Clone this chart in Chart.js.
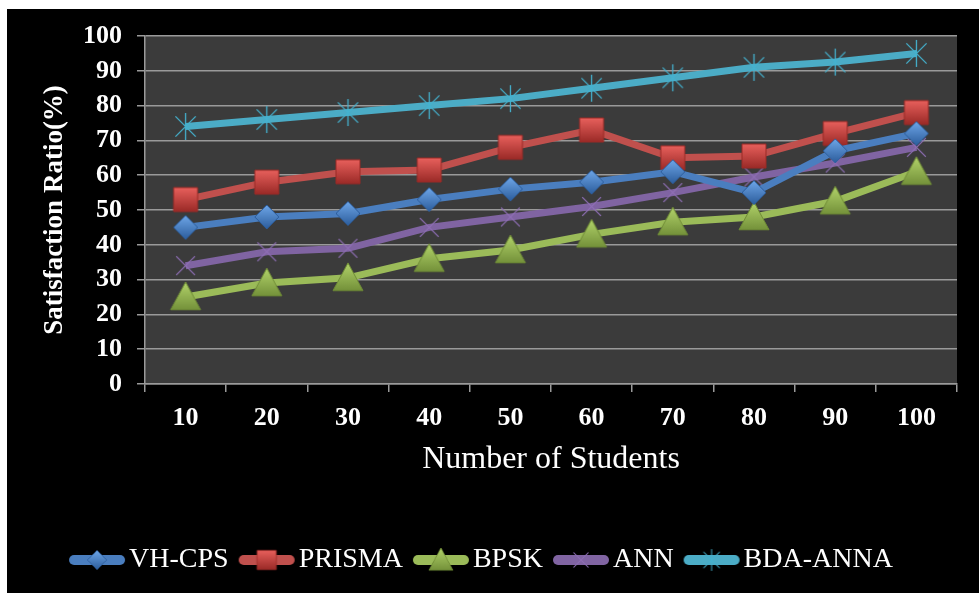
<!DOCTYPE html>
<html>
<head>
<meta charset="utf-8">
<script src="https://cdn.jsdelivr.net/npm/chart.js@4/dist/chart.umd.min.js"></script>
<style>
  html, body { margin: 0; padding: 0; background: #ffffff; }
  .frame {
    position: absolute;
    left: 7px;
    top: 9px;
    width: 972px;
    height: 584px;
    background: #000000;
  }
</style>
</head>
<body>
<div class="frame"><canvas id="chart" width="972" height="584"></canvas></div>
<script>
const categories = ['10', '20', '30', '40', '50', '60', '70', '80', '90', '100'];

const vhCps   = [45, 48, 49, 53, 56, 58, 61, 55, 67, 72];
const prisma  = [53, 58, 61, 61.5, 68, 73, 65, 65.5, 72, 78];
const bpsk    = [25, 29, 30.5, 36, 38.5, 43, 46.5, 48, 52.5, 61];
const ann     = [34, 38, 39, 45, 48, 51, 55, 59.5, 63.5, 68];
const bdaAnna = [74, 76, 78, 80, 82, 85, 88, 91, 92.5, 95];

const seriesNames = ['VH-CPS', 'PRISMA', 'BPSK', 'ANN', 'BDA-ANNA'];
const yTicks = [0, 10, 20, 30, 40, 50, 60, 70, 80, 90, 100];

const FONT = "'Liberation Serif', 'Times New Roman', serif";
const GRID = '#9a9a9a';

// marker glyphs, Excel-ish with a light top and darker bottom
function makeMarker(kind, light, dark, size) {
  const c = document.createElement('canvas');
  c.width = size + 4;
  c.height = size + 4;
  const g = c.getContext('2d');
  const m = c.width / 2;
  const h = size / 2;
  const grad = g.createLinearGradient(0, m - h, 0, m + h);
  grad.addColorStop(0, light);
  grad.addColorStop(1, dark);
  g.fillStyle = grad;
  g.strokeStyle = dark;
  g.lineWidth = 1;
  g.beginPath();
  if (kind === 'square') {
    g.rect(m - h, m - h, size, size);
  } else if (kind === 'diamond') {
    g.moveTo(m, m - h); g.lineTo(m + h, m); g.lineTo(m, m + h); g.lineTo(m - h, m);
    g.closePath();
  } else if (kind === 'triangle') {
    g.moveTo(m, m - h); g.lineTo(m + h, m + h * 0.85); g.lineTo(m - h, m + h * 0.85);
    g.closePath();
  }
  if (kind === 'x' || kind === 'star') {
    g.strokeStyle = light;
    g.lineWidth = 1.3;
    const d = h * 0.75;
    g.moveTo(m - d, m - d); g.lineTo(m + d, m + d);
    g.moveTo(m + d, m - d); g.lineTo(m - d, m + d);
    if (kind === 'star') { g.moveTo(m, m - h); g.lineTo(m, m + h); }
    g.stroke();
  } else {
    g.fill();
    g.stroke();
  }
  return c;
}

function makeLegendIcon(color, marker) {
  const c = document.createElement('canvas');
  c.width = 60;
  c.height = 28;
  const g = c.getContext('2d');
  g.strokeStyle = color;
  g.lineWidth = 10;
  g.lineCap = 'round';
  g.beginPath();
  g.moveTo(7, 14);
  g.lineTo(53, 14);
  g.stroke();
  const s = 0.8;
  const w = marker.width * s, hh = marker.height * s;
  g.drawImage(marker, 30 - w / 2, 14 - hh / 2, w, hh);
  return c;
}

const styles = [
  { data: vhCps,   line: '#4a7ebf', light: '#6ea6e8', dark: '#2c5d9c', kind: 'diamond',  size: 24 },
  { data: prisma,  line: '#c0504d', light: '#e8605c', dark: '#9a2a27', kind: 'square',   size: 24 },
  { data: bpsk,    line: '#9bbb59', light: '#b2d36a', dark: '#6f8c36', kind: 'triangle', size: 30 },
  { data: ann,     line: '#8064a2', light: '#8f6fb6', dark: '#5e4680', kind: 'x',        size: 25 },
  { data: bdaAnna, line: '#4bacc6', light: '#45b2cf', dark: '#2e8aa3', kind: 'star',     size: 27 }
];

const markers = styles.map(s => makeMarker(s.kind, s.light, s.dark, s.size));
const legendIcons = styles.map((s, i) => makeLegendIcon(s.line, markers[i]));

const datasets = styles.map((s, i) => ({
  label: seriesNames[i],
  data: s.data,
  borderColor: s.line,
  backgroundColor: s.line,
  borderWidth: 7,
  pointStyle: markers[i],
  pointRadius: s.size / 2,
  tension: 0,
  fill: false
}));

const plotBackground = {
  id: 'plotBackground',
  beforeDraw(chart) {
    const { ctx, chartArea: a } = chart;
    ctx.save();
    ctx.fillStyle = '#3b3b3b';
    ctx.fillRect(a.left, a.top, a.right - a.left, a.bottom - a.top);
    ctx.restore();
  }
};

new Chart(document.getElementById('chart'), {
  type: 'line',
  data: { labels: categories, datasets: datasets },
  plugins: [plotBackground],
  options: {
    responsive: false,
    animation: false,
    layout: { padding: { left: 0, right: 14, top: 27, bottom: 9 } },
    plugins: {
      tooltip: { enabled: false },
      legend: {
        position: 'bottom',
        align: 'center',
        labels: {
          usePointStyle: true,
          pointStyleWidth: 36,
          padding: 20,
          color: '#ffffff',
          font: { family: FONT, size: 28 },
          generateLabels(chart) {
            const items = Chart.defaults.plugins.legend.labels.generateLabels(chart);
            items.forEach((it, i) => { it.pointStyle = legendIcons[i]; });
            return items;
          }
        }
      }
    },
    scales: {
      x: {
        offset: true,
        afterFit(scale) { scale.height = 142; },
        grid: {
          offset: true,
          drawOnChartArea: false,
          drawTicks: true,
          tickLength: 8,
          color: GRID,
          lineWidth: 1.5
        },
        border: { color: GRID, width: 1.5 },
        ticks: {
          color: '#ffffff',
          padding: 11,
          font: { family: FONT, size: 26, weight: 'bold' }
        },
        title: {
          display: true,
          text: 'Number of Students',
          color: '#ffffff',
          font: { family: FONT, size: 32 },
          padding: { top: 0, bottom: 47 }
        }
      },
      y: {
        min: 0,
        max: 100,
        afterFit(scale) { scale.width = 138; },
        afterBuildTicks(scale) { scale.ticks = yTicks.map(v => ({ value: v })); },
        grid: {
          color: GRID,
          lineWidth: 1.5,
          tickLength: 8
        },
        border: { color: GRID, width: 1.5 },
        ticks: {
          color: '#ffffff',
          padding: 15,
          font: { family: FONT, size: 26, weight: 'bold', lineHeight: 0.9 }
        },
        title: {
          display: true,
          text: 'Satisfaction Ratio(%)',
          color: '#ffffff',
          font: { family: FONT, size: 27, weight: 'bold' },
          padding: { top: 32, bottom: 0 }
        }
      }
    }
  }
});
</script>
</body>
</html>
